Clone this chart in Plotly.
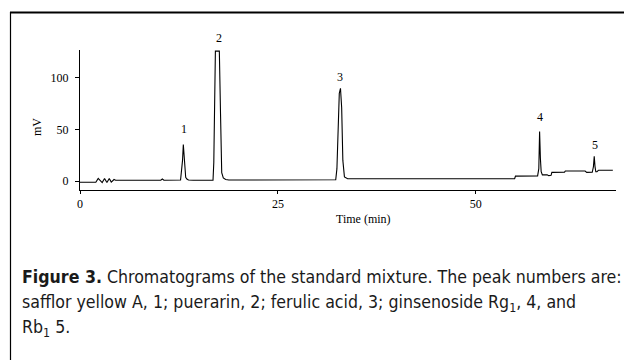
import plotly.graph_objects as go

# Chromatogram trace (time in min, signal in mV)
time_min = [0, 2.0, 2.3, 2.6, 2.8, 3.1, 3.4, 3.7, 3.95, 4.3, 4.5, 5.0, 10.2, 10.4, 10.6,
            12.7, 12.85, 12.95, 13.05, 13.15, 13.25, 13.35, 13.5, 13.7, 14.3, 16.8,
            16.9, 17.0, 17.1, 17.25, 17.6, 17.75, 17.9, 18.1, 18.4, 18.8, 25.0, 32.3,
            32.45, 32.6, 32.75, 32.9, 33.05, 33.2, 33.4, 33.8, 40.0, 54.9, 55.0, 57.8,
            57.95, 58.05, 58.15, 58.25, 58.4, 59.0, 59.2, 59.5, 59.6, 61.2, 61.3, 63.8,
            64.0, 64.7, 64.85, 64.95, 65.05, 65.15, 65.3, 65.5, 67.3]
signal_mv = [-1.2, -1.2, 2.5, 0.0, -1.5, 2.5, -1.5, 2.5, -1.0, 1.5, 0.8, 0.8, 0.8, 2.0, 0.8,
             1.0, 10, 20, 35.5, 22, 20, 3.5, 2.0, 1.0, 0.8, 0.8,
             18, 82, 126, 126, 126, 65, 8, 3, 1.5, 1.0, 1.0, 1.2,
             12, 42, 85, 90, 71, 20, 4, 2.2, 2.0, 2.2, 4.8, 5.0,
             12, 48, 22, 9, 6, 6, 5.2, 5.5, 8.4, 8.6, 9.7, 9.7,
             8.4, 8.5, 14, 24, 14, 9, 9, 10.5, 10.5]

peak_ids = ["1", "2", "3", "4", "5"]
peak_time = [13.1, 17.5, 32.9, 58.1, 65.1]
peak_label_mv = [50, 139, 101, 62, 35]

x_ticks = [0, 25, 50]
y_ticks = [0, 50, 100]

Y_MIN, Y_MAX = -8.7, 127.1

fig = go.Figure()
fig.add_trace(go.Scatter(x=time_min, y=signal_mv, mode="lines",
                         line=dict(color="black", width=1.1), showlegend=False,
                         hoverinfo="skip"))

serif = "Liberation Serif, Times New Roman, serif"
for pid, t, lv in zip(peak_ids, peak_time, peak_label_mv):
    fig.add_annotation(x=t, xref="x", yref="paper", y=(lv - Y_MIN) / (Y_MAX - Y_MIN),
                       xanchor="center", yanchor="middle",
                       text=pid, showarrow=False,
                       font=dict(family=serif, size=12, color="black"))

# page body adds an 8px margin, so the figure is 8px smaller and drawn from (8,8)
fig.update_layout(
    width=624, height=352,
    margin=dict(l=72, r=16, t=42, b=170),
    paper_bgcolor="white", plot_bgcolor="white",
    font=dict(family=serif, size=12, color="black"),
    xaxis=dict(range=[0, 67.7], tickvals=x_ticks, ticks="outside", ticklen=3,
               tickcolor="black", showline=True, linecolor="black", linewidth=1,
               showgrid=False, zeroline=False, fixedrange=True),
    yaxis=dict(range=[Y_MIN, Y_MAX], tickvals=y_ticks, ticks="outside", ticklen=4,
               tickcolor="black", showline=True, linecolor="black", linewidth=1,
               showgrid=False, zeroline=False, fixedrange=True, ticklabelstandoff=4),
)


def px(xp):
    return (xp - 80) / 536


def py(yp):
    return (190 - yp) / 140


# axis titles
fig.add_annotation(xref="paper", yref="paper", x=px(363), y=py(219),
                   xanchor="center", yanchor="middle",
                   text="Time (min)", showarrow=False,
                   font=dict(family=serif, size=12, color="black"))
fig.add_annotation(xref="paper", yref="paper", x=px(37), y=py(127),
                   xanchor="center", yanchor="middle",
                   text="mV", textangle=-90, showarrow=False,
                   font=dict(family=serif, size=12, color="black"))

# frame lines (top and left)
fig.add_shape(type="line", xref="paper", yref="paper", x0=px(10), y0=py(12.5), x1=px(650), y1=py(12.5),
              line=dict(color="black", width=2))
fig.add_shape(type="line", xref="paper", yref="paper", x0=px(10.5), y0=py(12), x1=px(10.5), y1=py(380),
              line=dict(color="black", width=1.2))

caption_font = "DejaVu Sans Condensed, Liberation Sans Narrow, Arial Narrow, sans-serif"
caption_lines = [
    "<b>Figure 3.</b> Chromatograms of the standard mixture. The peak numbers are:",
    "safflor yellow A, 1; puerarin, 2; ferulic acid, 3; ginsenoside Rg<sub>1</sub>, 4, and",
    "Rb<sub>1</sub> 5.",
]
caption_y = [277, 303, 328]
for line, yy in zip(caption_lines, caption_y):
    fig.add_annotation(xref="paper", yref="paper", x=px(20), y=py(yy), xanchor="left",
                       yanchor="middle", text=line, showarrow=False, align="left",
                       font=dict(family=caption_font, size=17.6, color="#1a1a1a"))

fig.write_html("out.html")
